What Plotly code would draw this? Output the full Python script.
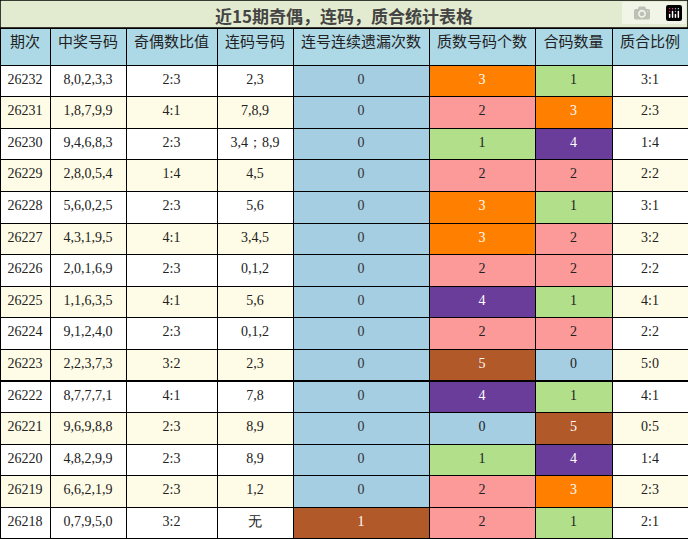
import plotly.graph_objects as go

title = "近15期奇偶，连码，质合统计表格"
headers = ["期次", "中奖号码", "奇偶数比值", "连码号码", "连号连续遗漏次数", "质数号码个数", "合码数量", "质合比例"]
periods = ["26232","26231","26230","26229","26228","26227","26226","26225","26224","26223","26222","26221","26220","26219","26218"]
numbers = ["8,0,2,3,3","1,8,7,9,9","9,4,6,8,3","2,8,0,5,4","5,6,0,2,5","4,3,1,9,5","2,0,1,6,9","1,1,6,3,5","9,1,2,4,0","2,2,3,7,3","8,7,7,7,1","9,6,9,8,8","4,8,2,9,9","6,6,2,1,9","0,7,9,5,0"]
odd_even = ["2:3","4:1","2:3","1:4","2:3","4:1","2:3","4:1","2:3","3:2","4:1","2:3","2:3","2:3","3:2"]
consec = ["2,3","7,8,9","3,4；8,9","4,5","5,6","3,4,5","0,1,2","5,6","0,1,2","2,3","7,8","8,9","8,9","1,2","无"]
miss = [0,0,0,0,0,0,0,0,0,0,0,0,0,0,1]
primes = [3,2,1,2,3,3,2,4,2,5,4,0,1,2,2]
composites = [1,3,4,2,1,2,2,1,2,0,1,5,4,3,1]
ratio = ["3:1","2:3","1:4","2:2","3:1","3:2","2:2","4:1","2:2","5:0","4:1","0:5","1:4","2:3","2:1"]

cmap = {0:"#a6cee3",1:"#b2df8a",2:"#fb9a99",3:"#ff7f00",4:"#6a3d9a",5:"#b15928"}
white_txt = {3,4,5}
row_bg = ["#ffffff" if i % 2 == 0 else "#fefce6" for i in range(len(periods))]
miss_bg = ["#a6cee3" if v == 0 else "#b15928" for v in miss]
miss_fc = ["#333333" if v == 0 else "#ffffff" for v in miss]
p_bg = [cmap[v] for v in primes]; p_fc = ["#ffffff" if v in white_txt else "#222222" for v in primes]
c_bg = [cmap[v] for v in composites]; c_fc = ["#ffffff" if v in white_txt else "#222222" for v in composites]

W, H = 688, 539
title_h = 28
fig = go.Figure(go.Table(
    columnwidth=[50,76,91,76,136,106,77,76],
    domain=dict(x=[0,1], y=[0, 1 - title_h / H]),
    header=dict(values=headers, fill_color="#add8e6", line=dict(color="#000000", width=1),
                font=dict(family="Noto Sans CJK SC", size=15, color="#222222"), height=37, align="center"),
    cells=dict(values=[periods, numbers, odd_even, consec, miss, primes, composites, ratio],
               fill_color=[row_bg, row_bg, row_bg, row_bg, miss_bg, p_bg, c_bg, row_bg],
               font=dict(family="Liberation Serif", size=14,
                         color=["#222222"]*4 + [miss_fc, p_fc, c_fc, "#222222"]),
               line=dict(color="#000000", width=1), height=31.6, align="center")
))
fig.add_shape(type="rect", xref="paper", yref="paper", x0=0, x1=1, y0=1 - title_h / H, y1=1,
              fillcolor="#e2ebcf", line=dict(color="#000000", width=1.5), layer="below")
fig.add_annotation(text="<b>" + title + "</b>", xref="paper", yref="paper", x=0.5, y=1,
                   yanchor="top", height=title_h, valign="middle", borderpad=0,
                   showarrow=False, font=dict(family="Noto Sans CJK SC", size=17, color="#444444"))
fig.update_layout(width=W, height=H, margin=dict(l=0, r=0, t=0, b=0), paper_bgcolor="#ffffff")
fig.write_html("out.html", post_script="document.body.style.margin='0';document.body.style.overflow='hidden';")
